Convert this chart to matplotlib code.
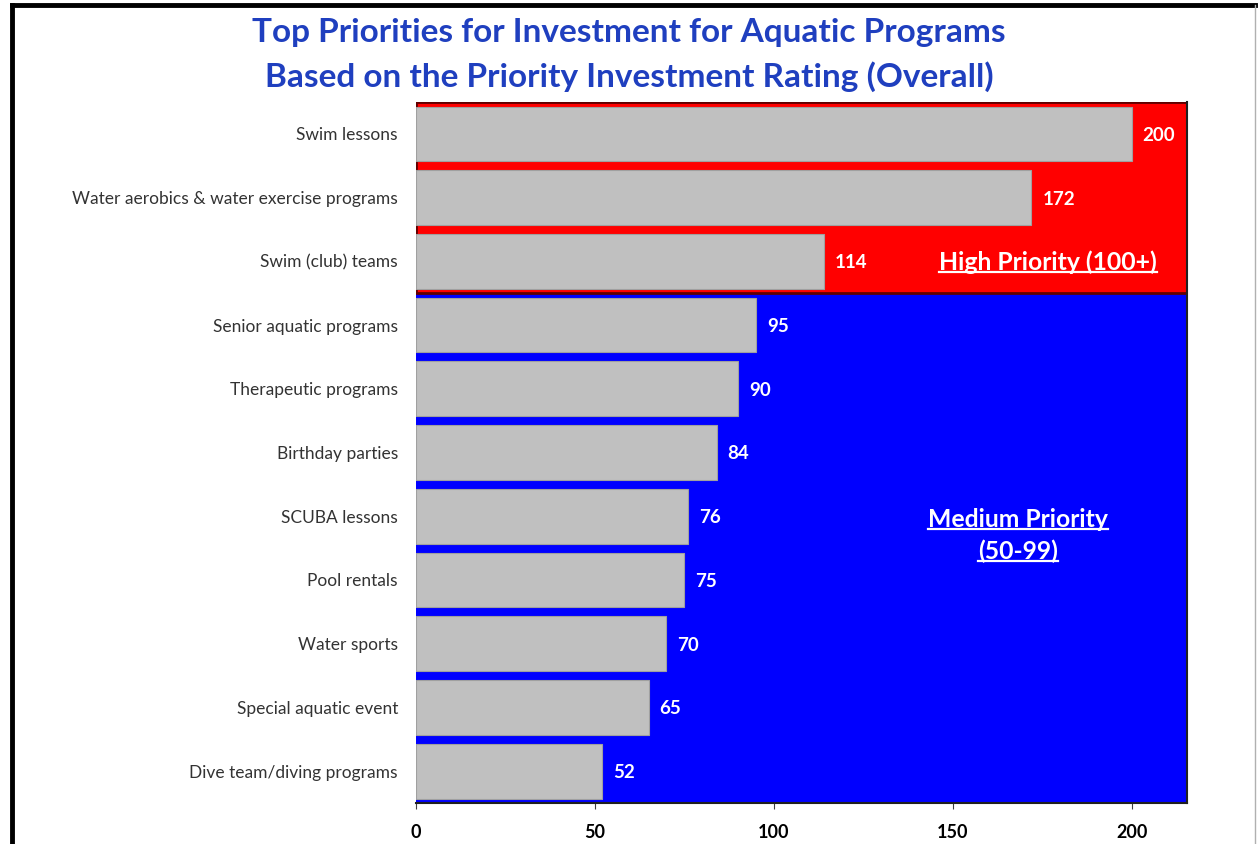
import matplotlib.pyplot as plt
from matplotlib.lines import Line2D

#===============================================================================
programs = [
    "Swim lessons",
    "Water aerobics & water exercise programs",
    "Swim (club) teams",
    "Senior aquatic programs",
    "Therapeutic programs",
    "Birthday parties",
    "SCUBA lessons",
    "Pool rentals",
    "Water sports",
    "Special aquatic event",
    "Dive team/diving programs",
]
ratings = [200, 172, 114, 95, 90, 84, 76, 75, 70, 65, 52]
x_ticks = [0, 50, 100, 150, 200]
high_count = 3  # programs rated 100+

plt.rcParams["font.family"] = ["Lato", "DejaVu Sans"]

#===============================================================================
fig = plt.figure(figsize=(12.58, 8.44), dpi=100)
ax = fig.add_axes([0.3307, 0.0486, 0.6129, 0.8305])

n = len(programs)
y = list(range(n))

ax.set_xlim(0, 215.5)
ax.set_ylim(n - 0.5, -0.5)

# priority bands behind the bars
ax.axhspan(high_count - 0.5, n - 0.5, color="#0000FF", zorder=0, lw=0)
ax.axhspan(-0.5, high_count - 0.5, facecolor="#FF0000", edgecolor="#600000",
           lw=2, zorder=1)

ax.barh(y, ratings, height=0.86, color="#C0C0C0", edgecolor="#A0A0A0",
        lw=0.8, zorder=2)

for yi, v in zip(y, ratings):
    ax.annotate(str(v), (v, yi), xytext=(8, -1), textcoords="offset points",
                va="center", ha="left", color="white", fontsize=13.5,
                fontweight="bold", zorder=3)

ax.set_yticks(y)
ax.set_yticklabels(programs, fontsize=12.5, color="#333333")
ax.tick_params(axis="y", length=0, pad=13)
ax.set_xticks(x_ticks)
ax.set_xticklabels([str(t) for t in x_ticks], fontsize=13, fontweight="bold")
ax.tick_params(axis="x", length=4, pad=11, color="#404040")

for side in ["top", "left"]:
    ax.spines[side].set_visible(False)
for side in ["bottom", "right"]:
    ax.spines[side].set_color("#202020")
    ax.spines[side].set_linewidth(1.5)
    ax.spines[side].set_zorder(4)

# band captions (underlined)
captions = [
    (0.8197, 0.7718, "High Priority (100+)"),
    (0.781, 0.405, "Medium Priority"),
    (0.781, 0.3595, "(50-99)"),
]
fig.canvas.draw()
renderer = fig.canvas.get_renderer()
inv = fig.transFigure.inverted()
for cx, cy, label in captions:
    t = ax.text(cx, cy, label, transform=ax.transAxes, ha="center",
                va="center", color="white", fontsize=17.8, fontweight="bold",
                zorder=5)
    bb = t.get_window_extent(renderer=renderer)
    (x0, y0), (x1, _) = inv.transform([(bb.x0, bb.y0), (bb.x1, bb.y1)])
    fig.add_artist(Line2D([x0, x1], [y0 + 0.002, y0 + 0.002], color="white",
                          lw=1.6, zorder=6))

fig.suptitle("Top Priorities for Investment for Aquatic Programs\n"
             "Based on the Priority Investment Rating (Overall)",
             x=0.5, y=0.979, fontsize=24, fontweight="bold",
             color="#1F3FBF", linespacing=1.55)

# outer frame
fig.add_artist(Line2D([0.0095, 0.0095], [0.0, 0.9935], color="black", lw=3.5))
fig.add_artist(Line2D([0.0095, 0.998], [0.9935, 0.9935], color="black", lw=3.5))
fig.add_artist(Line2D([0.9975, 0.9975], [0.0, 0.9935], color="#B0B0B0", lw=1))

fig.savefig("out.png", dpi=100)
